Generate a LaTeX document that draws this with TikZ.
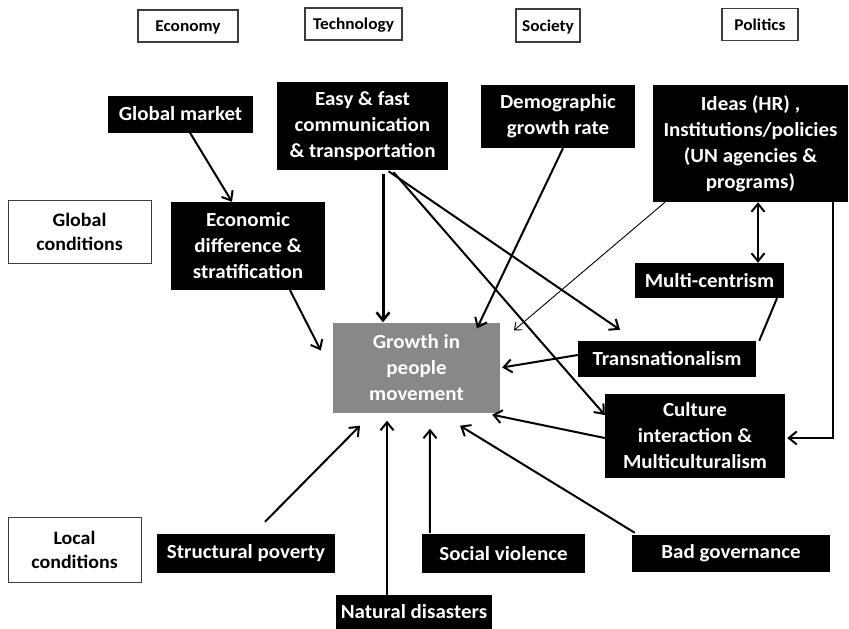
\documentclass[tikz,border=0pt]{standalone}
\usepackage{fontspec}
\setmainfont[FakeStretch=1.05]{Carlito}
\usetikzlibrary{arrows.meta,calc}
\definecolor{boxgray}{RGB}{136,136,136}
\definecolor{framegray}{RGB}{60,60,60}
\tikzset{
  blackbox/.style={fill=black,text=white,font=\bfseries\fontsize{20}{26}\selectfont,align=center,inner sep=0pt},
  headbox/.style={draw=framegray,line width=1.3pt,fill=white,text=black,font=\bfseries\fontsize{16.5}{20}\selectfont,align=center,inner sep=0pt,text height=11pt,text depth=0pt},
  condbox/.style={draw=framegray,line width=1pt,fill=white,text=black,font=\bfseries\fontsize{19}{24}\selectfont,align=center,inner sep=0pt},
  growthbox/.style={fill=boxgray,text=white,font=\bfseries\fontsize{20}{26}\selectfont,align=center,inner sep=0pt},
  conn/.style={line width=2pt,-{Straight Barb[length=8pt,width=13pt,line width=2pt]}},
  thinconn/.style={line width=0.9pt,-{Straight Barb[length=6pt,width=10pt,line width=0.9pt]}},
  thickconn/.style={line width=3pt,-{Straight Barb[length=8pt,width=13pt,line width=2.5pt]}},
  link/.style={line width=2pt}
}
\begin{document}
\begin{tikzpicture}[x=1pt,y=1pt]
\useasboundingbox (0,0) rectangle (849,-629);
% headers
\node[headbox,minimum width=100,minimum height=32] (eco) at (188,-26) {Economy};
\node[headbox,minimum width=97,minimum height=32] (tech) at (353.5,-24) {Technology};
\node[headbox,minimum width=64,minimum height=33] (soc) at (548,-25.5) {Society};
\node[headbox,minimum width=76,minimum height=32] (pol) at (760,-24.5) {Politics};
% condition labels
\node[condbox,minimum width=143,minimum height=63] (glob) at (79.5,-231.5) {Global\\conditions};
\node[condbox,minimum width=133,minimum height=65] (loc) at (74.5,-549.5) {Local\\conditions};
% factor boxes
\node[blackbox,minimum width=145,minimum height=37] (gm) at (180.5,-114) {Global market};
\node[blackbox,minimum width=171,minimum height=88] (easy) at (362.5,-126) {Easy \& fast\\communication\\\& transportation};
\node[blackbox,minimum width=154,minimum height=63] (demo) at (558,-116.5) {Demographic\\growth rate};
\node[blackbox,minimum width=195,minimum height=117] (ideas) at (750.5,-143.5) {Ideas (HR) ,\\Institutions/policies\\(UN agencies \&\\programs)};
\node[blackbox,minimum width=154,minimum height=88] (econ) at (248,-246) {Economic\\difference \&\\stratification};
\node[blackbox,minimum width=149,minimum height=35] (multi) at (709.5,-280.5) {Multi-centrism};
\node[growthbox,minimum width=167,minimum height=90] (growth) at (416.5,-367.5) {Growth in\\people\\movement};
\node[blackbox,minimum width=178,minimum height=36] (trans) at (667,-359) {Transnationalism};
\node[blackbox,minimum width=180,minimum height=84] (cult) at (695,-436) {Culture\\interaction \&\\Multiculturalism};
\node[blackbox,minimum width=178,minimum height=39] (sp) at (246,-553.5) {Structural poverty};
\node[blackbox,minimum width=163,minimum height=39] (sv) at (503.5,-553.5) {Social violence};
\node[blackbox,minimum width=198,minimum height=37] (bg) at (731,-553.5) {Bad governance};
\node[blackbox,minimum width=156,minimum height=34] (nd) at (414,-612) {Natural disasters};
% arrow end points near the growth box
\coordinate (t2) at ($(growth.west)+(-12,17)$);
\coordinate (t6) at ($(growth.north)+(60.5,-6)$);
\coordinate (t7) at ($(growth.north)+(97.5,-8)$);
\coordinate (t13) at ($(growth.south)+(-56.5,-13)$);
\coordinate (t14) at ($(growth.south)+(-29.5,-8)$);
\coordinate (t15) at ($(growth.south)+(13.5,-16)$);
\coordinate (t16) at ($(growth.south)+(43.5,-13)$);
% connectors
\draw[conn] ($(gm.south)+(9.5,0)$) -- ($(econ.north)+(-16,0)$);
\draw[conn] ($(econ.south)+(42,0)$) -- (t2);
\draw[thickconn] ($(easy.south)+(20.5,-4)$) -- ($(growth.north)+(-33.5,0)$);
\draw[conn] ($(easy.south)+(26,-1)$) -- ($(trans.north)+(-47,11)$);
\draw[conn] ($(easy.south)+(31,-2)$) -- ($(cult.west)+(0,21)$);
\draw[conn] ($(demo.south)+(5,0)$) -- (t6);
\draw[thinconn] ($(ideas.south)+(-85.5,0)$) -- (t7);
\draw[line width=2pt,{Straight Barb[length=8pt,width=13pt,line width=2pt]}-{Straight Barb[length=8pt,width=13pt,line width=2pt]}] ($(ideas.south)+(7.5,0)$) -- ($(multi.north)+(48.5,0)$);
\draw[link] ($(multi.south)+(67.5,0)$) -- ($(trans.north east)+(3,0)$);
\draw[conn] ($(trans.west)+(0,4)$) -- ($(growth.east)+(2,0)$);
\draw[conn] ($(ideas.south east)+(-15,0)$) |- ($(cult.east)+(2,-2)$);
\draw[conn] ($(cult.west)+(0,-2)$) -- ($(growth.south east)+(-8,-2)$);
\draw[conn] ($(sp.north)+(19,12)$) -- (t13);
\draw[conn] ($(nd.north)+(-27,0)$) -- (t14);
\draw[conn] ($(sv.north west)+(8,1)$) -- (t15);
\draw[conn] ($(bg.north west)+(3,2)$) -- (t16);
\end{tikzpicture}
\end{document}
